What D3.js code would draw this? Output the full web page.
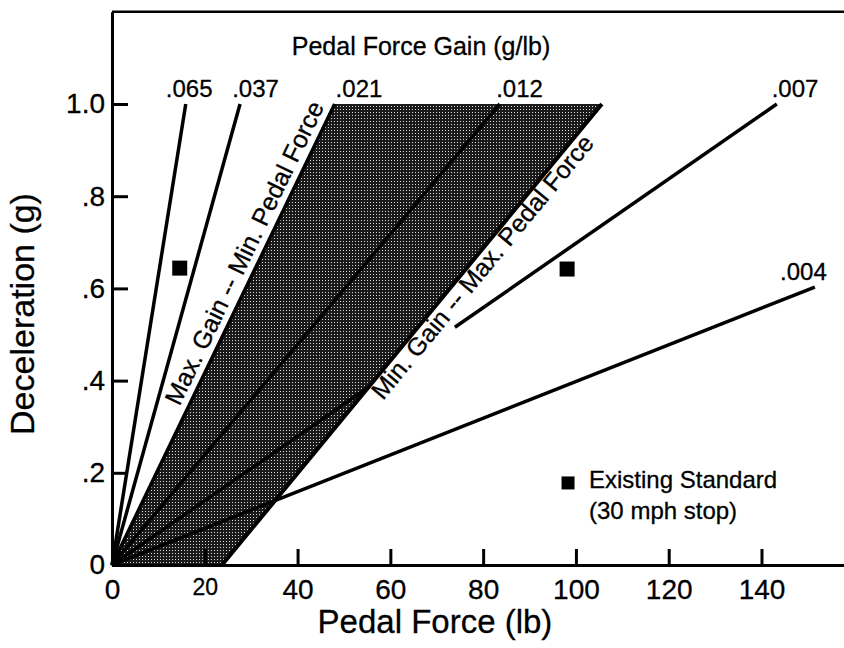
<!DOCTYPE html>
<html>
<meta charset="utf-8">
<head>
  <title>Pedal Force Gain</title>
</head>

<style>
body {
  margin: 0;
  background: #fff;
}
text {
  font-family: "Liberation Sans", Arial, Helvetica, sans-serif;
  fill: #000;
  stroke: #000;
  stroke-width: 0.3;
}
.axis path, .axis line {
  stroke: #000;
  stroke-width: 3;
}
.gain {
  stroke: #000;
  stroke-width: 3.5;
  fill: none;
}
</style>

<body>
  <svg width="844" height="648">
    <defs>
      <pattern id="dots" width="3" height="3" patternUnits="userSpaceOnUse">
        <rect width="3" height="3" fill="#1a1a1a"></rect>
        <rect x="1" y="1" width="1" height="1" fill="#d8d8d8"></rect>
      </pattern>
    </defs>
  </svg>

  <script src="https://cdnjs.cloudflare.com/ajax/libs/d3/7.8.5/d3.min.js"></script>

  <script>
var svg = d3.select('svg')

//axis ticks
var xTicks = [0, 20, 40, 60, 80, 100, 120, 140]
var yTicks = [0, 0.2, 0.4, 0.6, 0.8, 1.0]
var yTickLabels = ['0', '.2', '.4', '.6', '.8', '1.0']

//gain lines, all from the origin to an end point (lb, g)
var gainNames = ['.065', '.037', '.021', '.012', '.007', '.004']
var gainEndForce = [15.9, 27.6, 48, 83.6, 143.3, 151.5]
var gainEndDecel = [1.0, 1.0, 1.0, 1.0, 1.0, 0.603]
//where each gain label starts (lb, g)
var gainLabelForce = [11.6, 25.9, 48.2, 82.8, 142.2, 144]
var gainLabelDecel = [1.015, 1.015, 1.015, 1.015, 1.015, 0.618]
//the .007 line is broken here for the label
var gap007 = [55.4, 73.9]

//shaded band
var bandForce = [0, 48, 105.6, 23.7]
var bandDecel = [0, 1.0, 1.0, 0]

//squares
var squareForce = [14.6, 98.1]
var squareDecel = [0.644, 0.642]
var standardForce = 98.3
var standardDecel = 0.178

var x = d3.scaleLinear().domain([0, 158]).range([112, 845])
var y = d3.scaleLinear().domain([0, 1.2]).range([565, 11.8])

//band
var band = bandForce.map(function(f, i) { return [x(f), y(bandDecel[i])] })
svg.append('polygon')
  .attr('points', band.join(' '))
  .attr('fill', 'url(#dots)')

//band right edge
svg.append('line')
  .attr('class', 'gain')
  .attr('x1', x(bandForce[3])).attr('y1', y(bandDecel[3]))
  .attr('x2', x(bandForce[2])).attr('y2', y(bandDecel[2]))
  .style('stroke-width', 4)

//gain lines
var segs = []
gainNames.forEach(function(name, i) {
  var slope = gainEndDecel[i] / gainEndForce[i]
  if (name == '.007') {
    segs.push([0, gap007[0], slope])
    segs.push([gap007[1], gainEndForce[i], slope])
  } else {
    segs.push([0, gainEndForce[i], slope])
  }
})

svg.append('g')
  .selectAll('line')
  .data(segs)
  .enter()
  .append('line')
  .attr('class', 'gain')
  .attr('x1', function(d) { return x(d[0]) })
  .attr('y1', function(d) { return y(d[0] * d[2]) })
  .attr('x2', function(d) { return x(d[1]) })
  .attr('y2', function(d) { return y(d[1] * d[2]) })

svg.append('g')
  .selectAll('text')
  .data(gainNames)
  .enter()
  .append('text')
  .attr('x', function(d, i) { return x(gainLabelForce[i]) })
  .attr('y', function(d, i) { return y(gainLabelDecel[i]) })
  .style('font-size', '24px')
  .text(function(d) { return d })

//squares
svg.append('g')
  .selectAll('rect')
  .data(squareForce)
  .enter()
  .append('rect')
  .attr('x', function(d) { return x(d) - 7.5 })
  .attr('y', function(d, i) { return y(squareDecel[i]) - 7.5 })
  .attr('width', 15)
  .attr('height', 15)

svg.append('rect')
  .attr('x', x(standardForce) - 6.5)
  .attr('y', y(standardDecel) - 6.5)
  .attr('width', 13)
  .attr('height', 13)

svg.append('text')
  .attr('x', x(standardForce) + 21)
  .attr('y', y(standardDecel) + 5)
  .style('font-size', '24px')
  .text('Existing Standard')
svg.append('text')
  .attr('x', x(standardForce) + 21)
  .attr('y', y(standardDecel) + 36)
  .style('font-size', '24px')
  .text('(30 mph stop)')

//band labels along the edges
function edgeLabel(f0, d0, f1, d1, at, dx, dy, txt) {
  var ang = Math.atan2(y(d1) - y(d0), x(f1) - x(f0)) * 180 / Math.PI
  var f = f0 + (f1 - f0) * (at - d0) / (d1 - d0)
  svg.append('text')
    .attr('transform', 'translate(' + x(f) + ',' + y(at) + ') rotate(' + ang + ')')
    .attr('dx', dx)
    .attr('dy', dy)
    .style('font-size', '25px')
    .text(txt)
}
edgeLabel(bandForce[0], bandDecel[0], bandForce[1], bandDecel[1], 0.33, 3, -8, 'Max. Gain -- Min. Pedal Force')
edgeLabel(bandForce[3], bandDecel[3], bandForce[2], bandDecel[2], 0.37, 8, 20, 'Min. Gain -- Max. Pedal Force')

//title
svg.append('text')
  .attr('x', 421)
  .attr('y', 55)
  .attr('text-anchor', 'middle')
  .style('font-size', '25px')
  .text('Pedal Force Gain (g/lb)')

//axes
var xAxis = svg.append('g')
  .attr('class', 'axis')
  .attr('transform', 'translate(0,' + y(0) + ')')
  .call(d3.axisBottom(x).tickValues(xTicks).tickSizeInner(-16).tickSizeOuter(0).tickPadding(14))
xAxis.selectAll('text')
  .style('font-size', function(d) { return d == 20 ? '23px' : '28px' })

var yAxis = svg.append('g')
  .attr('class', 'axis')
  .attr('transform', 'translate(' + x(0) + ',0)')
  .call(d3.axisLeft(y).tickValues(yTicks).tickSizeInner(-16).tickSizeOuter(0).tickPadding(7)
    .tickFormat(function(d, i) { return yTickLabels[i] }))
yAxis.selectAll('text')
  .style('font-size', '28px')
svg.selectAll('.axis').attr('font-family', null).attr('font-size', null)

//top border
svg.append('line')
  .attr('x1', x(0)).attr('x2', 844)
  .attr('y1', y(1.2)).attr('y2', y(1.2))
  .attr('stroke', '#000')
  .attr('stroke-width', 2.5)

svg.append('text')
  .attr('x', 435)
  .attr('y', 633)
  .attr('text-anchor', 'middle')
  .style('font-size', '33px')
  .text('Pedal Force (lb)')

svg.append('text')
  .attr('transform', 'translate(34,314) rotate(-90)')
  .attr('text-anchor', 'middle')
  .style('font-size', '34px')
  .text('Deceleration (g)')

  </script>
</body>
</html>
